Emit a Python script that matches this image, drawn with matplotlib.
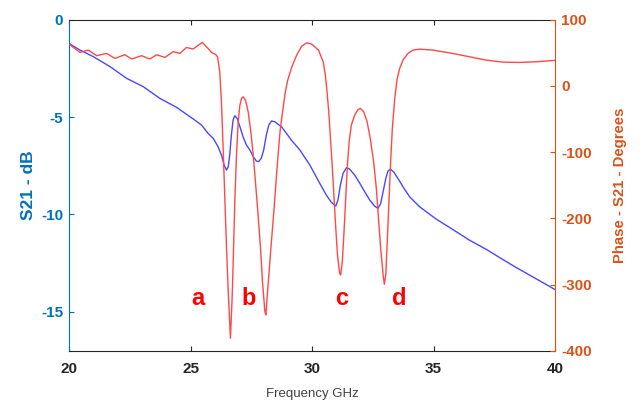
import numpy as np
import matplotlib.pyplot as plt

plt.rcParams['font.family'] = ['Liberation Sans', 'DejaVu Sans']
plt.rcParams['axes.unicode_minus'] = False

# S21 magnitude (dB)
freq_mag = [20.02, 20.43, 20.98, 21.67, 22.35, 23.04, 23.72, 24.41, 25.10, 25.44,
            25.71, 25.92, 26.12, 26.26, 26.37, 26.47, 26.54, 26.60, 26.67, 26.74,
            26.81, 26.91, 27.02, 27.15, 27.29, 27.43, 27.57, 27.70, 27.79, 27.90,
            28.00, 28.11, 28.21, 28.32, 28.46, 28.59, 28.73, 28.94, 29.14, 29.49,
            29.90, 30.31, 30.58, 30.79, 30.97, 31.06, 31.16, 31.27, 31.41, 31.54,
            31.75, 31.96, 32.16, 32.37, 32.57, 32.71, 32.82, 32.92, 33.03, 33.12,
            33.22, 33.35, 33.53, 33.74, 34.01, 34.42, 35.11, 35.79, 36.48, 37.17,
            37.85, 38.40, 40.0]
s21_db = [-1.25, -1.56, -1.90, -2.41, -3.01, -3.44, -4.04, -4.50, -5.10, -5.41,
          -5.84, -6.09, -6.52, -6.95, -7.46, -7.72, -7.55, -6.95, -5.92, -5.15,
          -4.93, -5.07, -5.49, -6.01, -6.44, -6.69, -7.03, -7.26, -7.29, -7.12,
          -6.69, -5.92, -5.41, -5.20, -5.24, -5.37, -5.49, -5.84, -6.18, -6.69,
          -7.46, -8.40, -9.00, -9.38, -9.57, -9.26, -8.49, -7.89, -7.60, -7.67,
          -7.98, -8.40, -8.83, -9.26, -9.57, -9.69, -9.43, -8.83, -8.15, -7.77,
          -7.67, -7.81, -8.15, -8.58, -9.09, -9.60, -10.24, -10.77, -11.32, -11.79,
          -12.31, -12.72, -13.85]

# S21 phase (degrees)
freq_ph = [20.02, 20.43, 20.77, 21.12, 21.53, 21.87, 22.28, 22.56, 22.97, 23.31,
           23.59, 23.93, 24.27, 24.55, 24.82, 25.09, 25.47, 25.71, 25.85, 26.02,
           26.10, 26.19, 26.26, 26.33, 26.40, 26.47, 26.54, 26.63, 26.70, 26.76,
           26.81, 26.88, 26.95, 27.02, 27.09, 27.15, 27.25, 27.36, 27.47, 27.57,
           27.66, 27.77, 27.87, 27.95, 28.05, 28.09, 28.17, 28.29, 28.42, 28.52,
           28.61, 28.68, 28.77, 28.88, 28.99, 29.16, 29.36, 29.57, 29.77, 29.98,
           30.26, 30.45, 30.54, 30.61, 30.69, 30.76, 30.83, 30.90,
           30.97, 31.04, 31.13, 31.17, 31.24, 31.31, 31.38, 31.45, 31.52, 31.61,
           31.75, 31.89, 31.98, 32.12, 32.26, 32.39, 32.53, 32.64, 32.74, 32.82,
           32.92, 32.97, 33.03, 33.09, 33.16, 33.23, 33.30, 33.40, 33.49, 33.60,
           33.74, 33.94, 34.15, 34.42, 34.97, 35.79, 36.48, 37.17, 37.85, 38.54,
           39.23, 40.0]
phase = [62, 50.6, 54, 45.6, 49, 41.5, 47, 40.6, 45.6, 40.6,
         47, 43, 51.7, 49, 58, 55.7, 65.6, 56.5, 50.5, 47.5,
         43.9, 21.3, -23.9, -94.3, -169.7, -245.1, -310.5, -380.9, -320.6, -245.1,
         -174.8, -104.4, -54.1, -29.0, -18.9, -16.4, -21.4, -39.0, -69.2, -104.4,
         -144.6, -194.9, -245.1, -295.4, -340.7, -345.7, -306, -248, -189, -139,
         -97, -66.7, -41.5, -11.3, 8.7, 28.8, 46.5, 60, 65, 63,
         54, 36.4, 16.3, -8.9, -44.0, -84.3, -124.5, -169.7,
         -215.0, -255.2, -282.9, -285.4, -265.3, -220.0, -169.7, -119.5, -84.3, -59.1,
         -44.0, -35.5, -34.0, -39.0, -54.1, -79.2, -114.4, -154.6, -204.9, -245.1,
         -285.4, -299.5, -285.4, -235.1, -174.8, -114.4, -64.2, -18.9, 8.7, 26.3,
         38.9, 49.0, 54.0, 55.5, 54, 49, 43.9, 38.9, 35.9, 35.4,
         36.4, 38.5]

# resonance labels
marks = ['a', 'b', 'c', 'd']
mark_f = [25.29, 27.40, 31.23, 33.59]
mark_y = -330

blue_ax = '#0072BD'
orange_ax = '#D95319'
dark = '#262626'

fig = plt.figure(figsize=(6.41, 4.01), dpi=100)
ax = fig.add_axes([0.1084, 0.125, 0.7574, 0.826])
ax2 = ax.twinx()

ax.plot(freq_mag, s21_db, color='#4848FF', lw=1.0)
ax2.plot(freq_ph, phase, color='#FF4848', lw=1.0)

ax.set_xlim(20, 40)
ax.set_ylim(-17, 0)
ax2.set_ylim(-400, 100)
ax.set_xticks([20, 25, 30, 35, 40])
ax.set_yticks([-15, -10, -5, 0])
ax2.set_yticks([-400, -300, -200, -100, 0, 100])

ax.tick_params(axis='x', direction='in', top=True, length=3.5, pad=8,
               colors=dark, labelsize=11)
ax.tick_params(axis='y', direction='in', length=3.5, pad=4.5,
               colors=blue_ax, labelsize=11)
ax2.tick_params(axis='y', direction='in', length=3.5, pad=4.5,
                colors=orange_ax, labelsize=11)
for lab in ax.get_xticklabels() + ax.get_yticklabels() + ax2.get_yticklabels():
    lab.set_fontweight('bold')

ax.spines['left'].set_color(blue_ax)
ax.spines['right'].set_visible(False)
ax.spines['top'].set_color(dark)
ax.spines['bottom'].set_color(dark)
for s in ['left', 'top', 'bottom']:
    ax2.spines[s].set_visible(False)
ax2.spines['right'].set_color(orange_ax)

ax.set_xlabel('Frequency GHz', fontsize=9.5, color='#404040', labelpad=8.5)
ax.set_ylabel('S21 - dB', fontsize=12.5, fontweight='bold', color=blue_ax, labelpad=4)
ax2.set_ylabel('Phase - S21 - Degrees', fontsize=10.7, fontweight='bold',
               color=orange_ax, labelpad=15)

for m, f in zip(marks, mark_f):
    ax2.text(f, mark_y, m, color='red', fontsize=17, fontweight='bold',
             ha='center', va='baseline')

fig.savefig('out.png', dpi=100)
